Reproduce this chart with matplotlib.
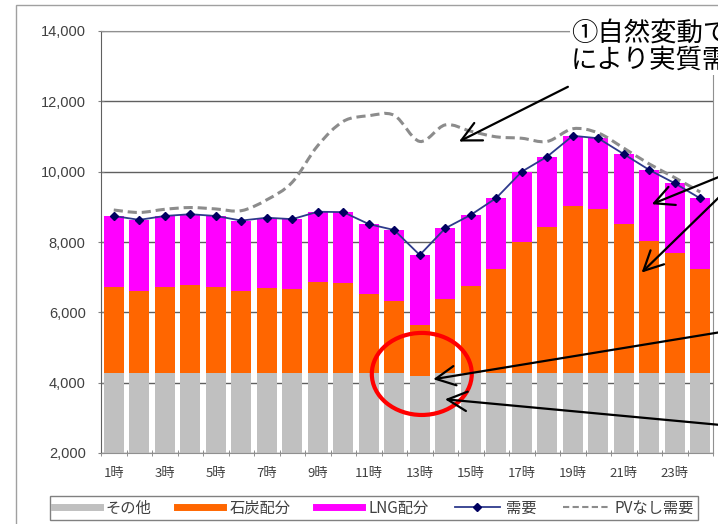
# 時間帯別の需給バランス（その他・石炭・LNG）と需要/PVなし需要

import numpy as np
import matplotlib
matplotlib.use('Agg')
from matplotlib import pyplot as plt
from matplotlib.lines import Line2D
from matplotlib.patches import Ellipse, Rectangle
from matplotlib.path import Path
from matplotlib.patches import PathPatch

plt.rcParams['font.family'] = ['Noto Sans CJK JP', 'DejaVu Sans']

hours = ['1時', '2時', '3時', '4時', '5時', '6時', '7時', '8時', '9時', '10時', '11時', '12時',
         '13時', '14時', '15時', '16時', '17時', '18時', '19時', '20時', '21時', '22時', '23時', '24時']
other = [4280, 4280, 4280, 4280, 4280, 4280, 4280, 4280, 4280, 4280, 4280, 4280,
         4190, 4280, 4280, 4280, 4280, 4280, 4280, 4280, 4280, 4280, 4280, 4280]
coal = [2430, 2340, 2430, 2490, 2430, 2320, 2410, 2370, 2590, 2550, 2240, 2050,
        1440, 2090, 2480, 2950, 3720, 4140, 4750, 4650, 4230, 3760, 3420, 2950]
lng = [2030, 2010, 2030, 2020, 2030, 2010, 2000, 2000, 1990, 2020, 1990, 2010,
       2000, 2020, 2010, 2020, 2000, 2010, 1990, 2020, 1990, 2010, 1970, 2010]
demand = [8740, 8630, 8740, 8790, 8740, 8610, 8690, 8650, 8860, 8850, 8510, 8340,
          7630, 8390, 8770, 9250, 10000, 10430, 11020, 10950, 10500, 10050, 9670, 9240]
demand_no_pv = [8910, 8840, 8930, 8980, 8940, 8890, 9200, 9700, 10740, 11430, 11590, 11600,
                10860, 11330, 11150, 10990, 10950, 10860, 11220, 11100, 10670, 10220, 9830, 9420]
yticks = [2000, 4000, 6000, 8000, 10000, 12000, 14000]

c_other = '#C0C0C0'
c_coal = '#FF6600'
c_lng = '#FF00FF'
c_dem = '#2E3A8C'
c_dem_mk = '#000060'
c_nopv = '#8C8C8C'

fig = plt.figure(figsize=(7.18, 5.24), dpi=100)
ax = fig.add_axes([101/718, 1 - 453/524, 612/718, 422/524])

x = np.arange(len(hours))
other_a = np.array(other)
coal_a = np.array(coal)
lng_a = np.array(lng)

ax.bar(x, other_a, width=0.8, color=c_other, zorder=2)
ax.bar(x, coal_a, width=0.8, bottom=other_a, color=c_coal, zorder=2)
ax.bar(x, lng_a, width=0.8, bottom=other_a + coal_a, color=c_lng, zorder=2)

ax.plot(x, demand, color=c_dem, lw=1.3, marker='D', ms=4.5, mfc=c_dem_mk, mec=c_dem_mk, zorder=4)

# smooth (Excel style) curve through the PV-less demand points
pts = np.column_stack([x, demand_no_pv]).astype(float)
verts = [pts[0]]
codes = [Path.MOVETO]
for i in range(len(pts) - 1):
    p0 = pts[max(i - 1, 0)]
    p1 = pts[i]
    p2 = pts[i + 1]
    p3 = pts[min(i + 2, len(pts) - 1)]
    verts += [p1 + (p2 - p0) / 6, p2 - (p3 - p1) / 6, p2]
    codes += [Path.CURVE4] * 3
ax.add_patch(PathPatch(Path(verts, codes), fill=False, edgecolor=c_nopv, lw=2.2,
                       linestyle=(0, (3, 1.6)), zorder=3))

ax.set_xlim(-0.5, len(hours) - 0.5)
ax.set_ylim(2000, 14000)
ax.set_yticks(yticks)
ax.set_yticklabels([f'{v:,}' for v in yticks], family='Liberation Sans', fontsize=10.5, color='#404040')
ax.grid(axis='y', color='#606060', lw=1, zorder=1)
ax.tick_params(axis='y', length=4, direction='inout', color='#808080', pad=9)

ax.set_xticks(x[::2])
ax.set_xticklabels(hours[::2], fontsize=9.5, color='#404040')
ax.set_xticks(np.arange(len(hours) + 1) - 0.5, minor=True)
ax.tick_params(axis='x', which='major', length=0, pad=10)
ax.tick_params(axis='x', which='minor', length=4, direction='inout', color='#808080')
for s in ['top', 'right', 'bottom']:
    ax.spines[s].set_color('#909090')
ax.spines['left'].set_color('#606060')

# red circle and arrows
ax.add_patch(Ellipse((12.08, 4248), 3.92, 2333, fill=False, edgecolor='#FF0000', lw=3, zorder=6,
                     clip_on=False))
arrows = [((13.54, 10857), (17.81, 12413)),
          ((21.1, 9075), (23.9, 9900)),
          ((20.7, 7130), (24.2, 9600)),
          ((12.53, 4097), (23.9, 5450)),
          ((12.99, 3528), (23.9, 2790))]
for tip, tail in arrows:
    ax.annotate('', xy=tip, xytext=tail, annotation_clip=False, zorder=7,
                arrowprops=dict(arrowstyle='->,head_length=0.7,head_width=0.35', color='black',
                                lw=1.6, shrinkA=0, shrinkB=0, mutation_scale=20))

fig.text(571/718, 1 - 20/524, '①自然変動で\nにより実質需要', fontsize=19, va='top', ha='left',
         linespacing=1.0, color='black',
         bbox=dict(facecolor='white', edgecolor='none', pad=1))

handles = [Line2D([], [], color=c_other, lw=5),
           Line2D([], [], color=c_coal, lw=5),
           Line2D([], [], color=c_lng, lw=5),
           Line2D([], [], color=c_dem, lw=1.3, marker='D', ms=4, mfc=c_dem_mk, mec=c_dem_mk),
           Line2D([], [], color=c_nopv, lw=1.5, linestyle=(0, (3, 1.6)))]
labels = ['その他', '石炭配分', 'LNG配分', '需要', 'PVなし需要']
leg = fig.legend(handles, labels, loc='center', bbox_to_anchor=(374/718, 1 - 508/524), ncol=5,
                 fontsize=11, frameon=True, fancybox=False, edgecolor='#606060',
                 handlelength=3.0, columnspacing=1.7, handletextpad=0.4, borderpad=0.25,
                 labelcolor='#404040')
leg.get_frame().set_linewidth(1)

# outer chart frame
fig.patches.append(Rectangle((16/718, -0.1), 1.2, 1 - 5/524 + 0.1, transform=fig.transFigure,
                             fill=False, edgecolor='#A0A0A0', lw=1, zorder=0))

fig.savefig('out.png', dpi=100)
